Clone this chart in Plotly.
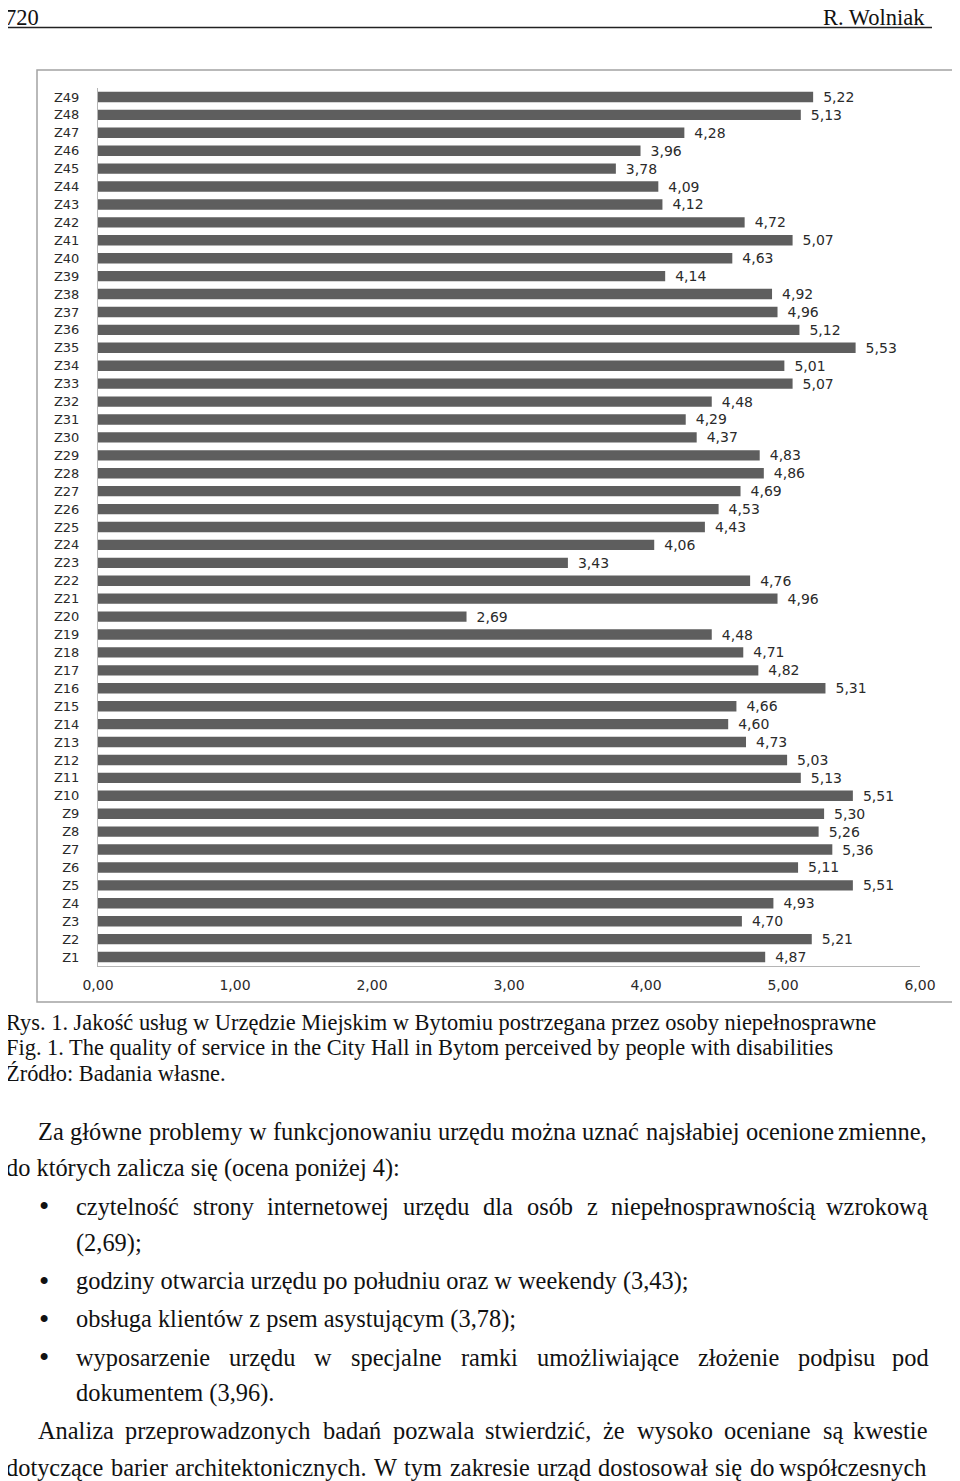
import plotly.graph_objects as go

# the page body adds an 8px margin, so the figure is drawn 8px in and the
# reference positions below are shifted by that
PAGE_OFFSET = 8
W, H = 960 - PAGE_OFFSET, 1481 - PAGE_OFFSET

# chart data (Z1 at the bottom, Z49 at the top)
labels = [f"Z{i}" for i in range(1, 50)]
scores = [4.87, 5.21, 4.70, 4.93, 5.51, 5.11, 5.36, 5.26, 5.30, 5.51,
          5.13, 5.03, 4.73, 4.60, 4.66, 5.31, 4.82, 4.71, 4.48, 2.69,
          4.96, 4.76, 3.43, 4.06, 4.43, 4.53, 4.69, 4.86, 4.83, 4.37,
          4.29, 4.48, 5.07, 5.01, 5.53, 5.12, 4.96, 4.92, 4.14, 4.63,
          5.07, 4.72, 4.12, 4.09, 3.78, 3.96, 4.28, 5.13, 5.22]
x_ticks = [0, 1, 2, 3, 4, 5, 6]

# page text
header_left = "720"
header_right = "R. Wolniak"
caption_lines = [
    "Rys. 1. Jakość usług w Urzędzie Miejskim w Bytomiu postrzegana przez osoby niepełnosprawne",
    "Fig. 1. The quality of service in the City Hall in Bytom perceived by people with disabilities",
    "Źródło: Badania własne.",
]
# (text, left px, right px if justified, y px, bullet)
body_lines = [
    ("Za główne problemy w funkcjonowaniu urzędu można uznać najsłabiej ocenione zmienne,", 37, 928, 1131, False),
    ("do których zalicza się (ocena poniżej 4):", 5, None, 1168, False),
    ("czytelność strony internetowej urzędu dla osób z niepełnosprawnością wzrokową", 75, 930, 1206, True),
    ("(2,69);", 75, None, 1243, False),
    ("godziny otwarcia urzędu po południu oraz w weekendy (3,43);", 75, None, 1281, True),
    ("obsługa klientów z psem asystującym (3,78);", 75, None, 1319, True),
    ("wyposarzenie urzędu w specjalne ramki umożliwiające złożenie podpisu pod", 75, 930, 1357, True),
    ("dokumentem (3,96).", 75, None, 1393, False),
    ("Analiza przeprowadzonych badań pozwala stwierdzić, że wysoko oceniane są kwestie", 37, 928, 1430, False),
    ("dotyczące barier architektonicznych. W tym zakresie urząd dostosował się do współczesnych", 5, 928, 1467, False),
]

SERIF = "Liberation Serif, Times New Roman, serif"
SANS = "DejaVu Sans, Verdana, sans-serif"
TEXT_COLOR = "#111111"
CHART_TEXT = "#2a2a2a"

# rough Times metrics (1/1000 em) so justified lines can be laid out
TIMES = dict(zip("abcdefghijklmnopqrstuvwxyz",
                 [444, 500, 444, 500, 444, 333, 500, 500, 278, 278, 500, 278, 778,
                  500, 500, 500, 500, 333, 389, 278, 500, 500, 722, 500, 500, 444]))
TIMES.update(dict(zip("ABCDEFGHIJKLMNOPQRSTUVWXYZ",
                      [722, 667, 667, 722, 611, 556, 722, 722, 333, 389, 722, 611, 889,
                       722, 722, 556, 722, 667, 556, 611, 722, 722, 944, 722, 722, 611])))
TIMES.update({" ": 250, ".": 250, ",": 250, ":": 278, ";": 278, "(": 333, ")": 333, "-": 333})
BASE = dict(zip("ąćęłńóśźżĄĆĘŁŃÓŚŹŻ", "acelnoszzACELNOSZZ"))


def em_width(s):
    return sum(TIMES.get(BASE.get(c, c), 500) for c in s) / 1000


def px(x):
    """Page pixel -> paper fraction."""
    return (x - PAGE_OFFSET) / W


def py(y):
    return 1 - (y - PAGE_OFFSET) / H


annotations = []


def put_text(text, x, y, size, anchor="left", color=TEXT_COLOR):
    annotations.append(dict(
        text=text, x=px(x), y=py(y), xref="paper", yref="paper",
        xanchor=anchor, yanchor="middle", showarrow=False, borderpad=0,
        font=dict(family=SERIF, size=size, color=color),
    ))


def put_line(text, x0, x1, y, size):
    if x1 is None:
        put_text(text, x0, y, size)
        return
    # justified line: spread the words between x0 and x1
    words = text.split()
    widths = [em_width(w) * size for w in words]
    gap = (x1 - x0 - sum(widths)) / (len(words) - 1)
    x = x0
    for i, (w, wd) in enumerate(zip(words, widths)):
        if i == len(words) - 1:
            put_text(w, x1, y, size, anchor="right")
        else:
            put_text(w, x, y, size)
        x += wd + gap


header_size = 22.5
caption_size = 872 / em_width(caption_lines[0])
body_size = 613 / em_width(body_lines[4][0])

put_text(header_left, 4, 17.5, header_size)
put_text(header_right, 926, 17.5, header_size, anchor="right")
for line, y in zip(caption_lines, [1022, 1047, 1073]):
    put_text(line, 5, y, caption_size)
for text, x0, x1, y, bullet in body_lines:
    put_line(text, x0, x1, y, body_size)
    if bullet:
        put_text("•", 44, y, body_size * 1.2, anchor="center")

fig = go.Figure(go.Bar(
    x=scores,
    y=labels,
    orientation="h",
    marker=dict(color="#5e5e5e", line=dict(width=0)),
    texttemplate="\u2002%{x:.2f}",
    textposition="outside",
    constraintext="none",
    textfont=dict(family=SANS, size=14, color=CHART_TEXT),
    cliponaxis=False,
))

fig.update_layout(
    width=W, height=H,
    margin=dict(l=0, r=0, t=0, b=0, autoexpand=False),
    paper_bgcolor="white",
    plot_bgcolor="white",
    separators=", ",
    bargap=0.42,
    showlegend=False,
    annotations=annotations,
    shapes=[
        # rule under the running head
        dict(type="line", xref="paper", yref="paper",
             x0=0, x1=px(932), y0=py(27.5), y1=py(27.5),
             line=dict(color="#222222", width=1.5)),
        # frame round the chart
        dict(type="rect", xref="paper", yref="paper",
             x0=px(37), x1=px(958), y0=py(1002), y1=py(70),
             line=dict(color="#a3a3a3", width=1.5)),
    ],
)

fig.update_xaxes(
    domain=[px(98), px(920)],
    range=[0, 6],
    tickvals=x_ticks,
    tickformat=".2f",
    automargin=False,
    showgrid=False,
    zeroline=False,
    showline=True,
    linecolor="#b5b5b5",
    linewidth=1,
    ticks="",
    ticklabelstandoff=6,
    tickfont=dict(family=SANS, size=14, color=CHART_TEXT),
)
fig.update_yaxes(
    domain=[py(966), py(88)],
    type="category",
    automargin=False,
    showgrid=False,
    zeroline=False,
    showline=True,
    linecolor="#b5b5b5",
    linewidth=1,
    ticks="",
    ticklabelstandoff=15,
    tickfont=dict(family=SANS, size=13, color=CHART_TEXT),
)

fig.write_html("out.html")
